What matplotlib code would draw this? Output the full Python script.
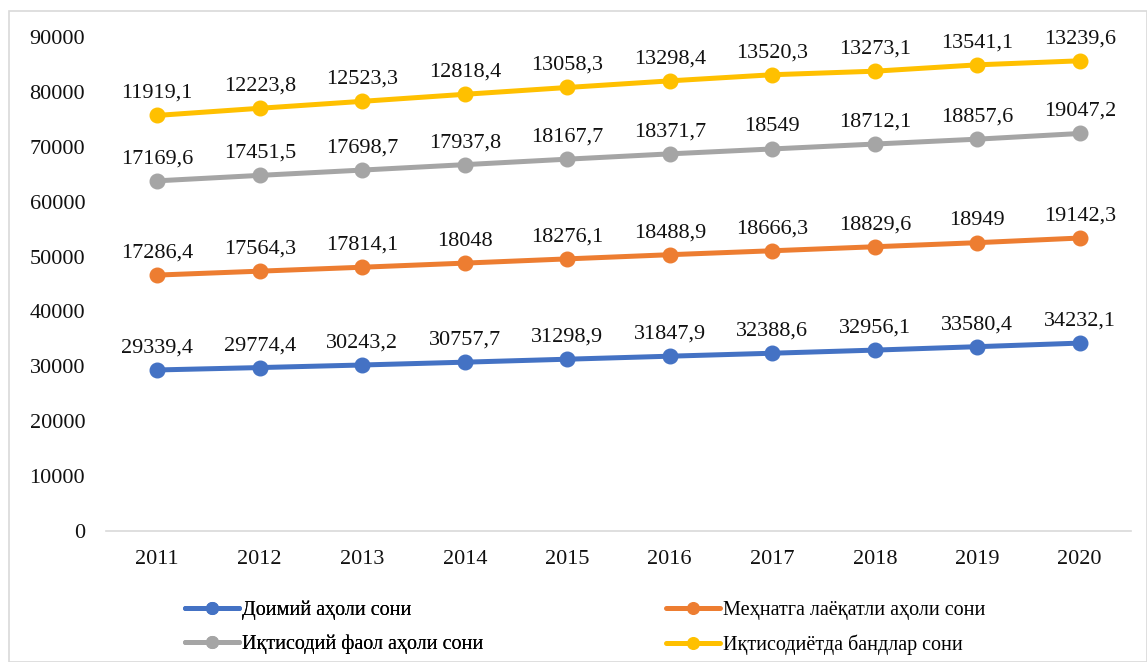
import matplotlib
matplotlib.use("Agg")
import matplotlib.pyplot as plt
import numpy as np
from matplotlib.patches import Rectangle

years = ["2011", "2012", "2013", "2014", "2015", "2016", "2017", "2018", "2019", "2020"]
doimiy = [29339.4, 29774.4, 30243.2, 30757.7, 31298.9, 31847.9, 32388.6, 32956.1, 33580.4, 34232.1]
mehnat = [17286.4, 17564.3, 17814.1, 18048, 18276.1, 18488.9, 18666.3, 18829.6, 18949, 19142.3]
faol = [17169.6, 17451.5, 17698.7, 17937.8, 18167.7, 18371.7, 18549, 18712.1, 18857.6, 19047.2]
band = [11919.1, 12223.8, 12523.3, 12818.4, 13058.3, 13298.4, 13520.3, 13273.1, 13541.1, 13239.6]
names = ["Доимий аҳоли сони", "Меҳнатга лаёқатли аҳоли сони",
         "Иқтисодий фаол аҳоли сони", "Иқтисодиётда бандлар сони"]
colors = ["#4472C4", "#ED7D31", "#A5A5A5", "#FFC000"]
yticks = [0, 10000, 20000, 30000, 40000, 50000, 60000, 70000, 80000, 90000]

plt.rcParams['font.family'] = ['Liberation Serif', 'DejaVu Serif']

W, H = 1147, 662
fig = plt.figure(figsize=(W/100, H/100), dpi=100)
fig.patches.append(Rectangle((9/W, 0), (W-9)/W, (H-11)/H, transform=fig.transFigure,
                             fill=False, edgecolor="#D9D9D9", linewidth=1.2))

ax = fig.add_axes([106/W, (H-531)/H, (1131-106)/W, (531-37)/H])
x = np.arange(len(years))
series = [doimiy, mehnat, faol, band]
cum = np.zeros(len(years))
handles = []
for s, c, n in zip(series, colors, names):
    cum = cum + np.array(s)
    h, = ax.plot(x, cum, color=c, lw=3.6, marker="o", ms=10.5, label=n, solid_capstyle="round", zorder=3)
    handles.append(h)
    for xi, yi, v in zip(x, cum, s):
        txt = f"{v:g}".replace(".", ",")
        ax.annotate(txt, (xi, yi), xytext=(0, 9), textcoords="offset points",
                    ha="center", va="bottom", fontsize=16, color="#111111")

ax.set_xlim(-0.5, len(years) - 0.5)
ax.set_ylim(0, 90000)
ax.set_yticks(yticks)
ax.set_yticklabels([str(t) for t in yticks])
ax.set_xticks(x)
ax.set_xticklabels(years)
for sp in ["top", "right", "left"]:
    ax.spines[sp].set_visible(False)
ax.spines["bottom"].set_color("#D9D9D9")
ax.spines["bottom"].set_linewidth(1.2)
ax.tick_params(axis="both", length=0, labelsize=16, colors="#111111")
ax.tick_params(axis="y", pad=15)
ax.tick_params(axis="x", pad=14)

leg_kw = dict(frameon=False, fontsize=14.5, handlelength=2.7, handletextpad=0.15,
              labelspacing=0.72, borderpad=0, borderaxespad=0, markerscale=0.8)
leg1 = fig.legend([handles[0], handles[2]], [names[0], names[2]], loc="upper left",
                  bbox_to_anchor=(185/W, (H-601)/H), **leg_kw)
fig.add_artist(leg1)
fig.legend([handles[1], handles[3]], [names[1], names[3]], loc="upper left",
           bbox_to_anchor=(666/W, (H-601)/H), **leg_kw)

fig.savefig("out.png", dpi=100)
